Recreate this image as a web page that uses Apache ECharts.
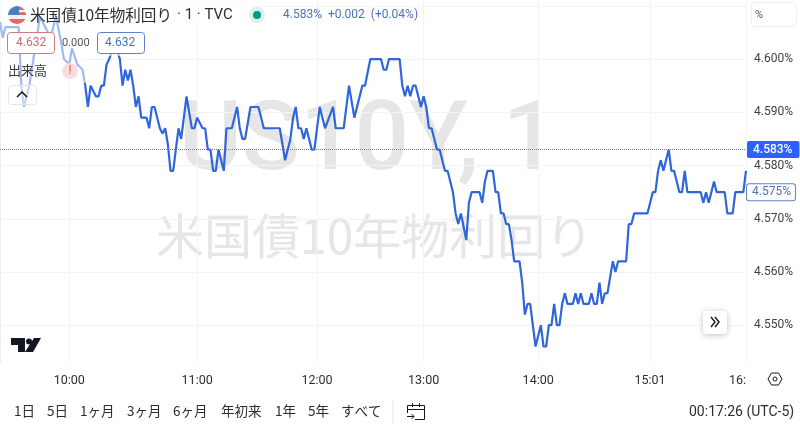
<!DOCTYPE html>
<html>
<head>
<meta charset="utf-8">
<script src="https://cdn.jsdelivr.net/npm/echarts@6/dist/echarts.min.js"></script>
<style>
  html,body{margin:0;padding:0;background:#fff}
  #root{width:800px;height:429px}
</style>
</head>
<body>
<div id="root"></div>
<script>
// one entry per turn of the line: bar number and yield (%)
const bars = [0,1,2,4,7,8,9,11,15,17,19,21,23,24,26,27,29,31,32,33,34,36,37,38,39,40,41,43,45,46,47,48,49,50,51,52,53,55,56,57,58,60,61,62,63,64,65,67,68,70,72,73,74,76,77,78,79,80,81,82,84,85,87,89,90,91,92,94,97,99,105,107,109,110,111,112,113,114,115,117,118,120,122,125,126,129,131,133,136,137,139,140,143,144,145,146,150,151,152,153,154,155,156,158,159,160,161,162,164,165,167,168,170,171,172,173,175,176,177,180,181,182,183,185,186,187,188,189,190,191,192,193,195,196,197,198,199,201,203,204,205,206,207,208,209,210,211,212,213,215,216,217,218,219,221,222,223,224,225,226,227,228,230,231,232,235,236,237,238,243,245,246,247,248,249,251,252,253,255,256,257,258,263,264,265,266,268,269,272,273,275,276,279,280];
const yields = [4.607,4.604,4.606,4.606,4.606,4.595,4.591,4.595,4.608,4.606,4.604,4.608,4.603,4.600,4.599,4.602,4.599,4.598,4.595,4.591,4.595,4.593,4.593,4.595,4.595,4.599,4.600,4.603,4.600,4.595,4.598,4.596,4.598,4.595,4.591,4.593,4.589,4.589,4.587,4.591,4.591,4.587,4.586,4.587,4.584,4.579,4.579,4.587,4.585,4.593,4.587,4.587,4.589,4.587,4.587,4.583,4.583,4.579,4.579,4.583,4.579,4.587,4.587,4.591,4.587,4.585,4.585,4.591,4.591,4.587,4.587,4.581,4.585,4.589,4.591,4.587,4.587,4.585,4.587,4.583,4.583,4.591,4.587,4.591,4.587,4.587,4.595,4.589,4.595,4.595,4.600,4.600,4.600,4.598,4.598,4.600,4.600,4.595,4.593,4.595,4.593,4.595,4.595,4.591,4.593,4.591,4.587,4.587,4.583,4.583,4.579,4.579,4.575,4.571,4.569,4.571,4.566,4.573,4.575,4.575,4.573,4.577,4.579,4.579,4.575,4.575,4.571,4.571,4.569,4.569,4.566,4.562,4.562,4.558,4.552,4.554,4.554,4.546,4.550,4.546,4.546,4.550,4.550,4.554,4.550,4.550,4.554,4.556,4.554,4.554,4.556,4.554,4.556,4.554,4.554,4.556,4.554,4.554,4.558,4.554,4.556,4.556,4.562,4.560,4.562,4.562,4.569,4.569,4.571,4.571,4.575,4.575,4.579,4.581,4.579,4.583,4.579,4.579,4.575,4.575,4.579,4.575,4.575,4.573,4.575,4.573,4.577,4.575,4.575,4.571,4.571,4.575,4.575,4.579];
const timeTicks = [26,74,119,159,202,244,280];
const timeLabels = ['10:00','11:00','12:00','13:00','14:00','15:01','16:'];
const priceTicks = [4.55,4.56,4.57,4.58,4.59,4.60,4.61];
const lastPrice = 4.583;
const prevPrice = 4.575;
const rangeLabels = ['1日','5日','1ヶ月','3ヶ月','6ヶ月','年初来','1年','5年','すべて'];
const rangeX = [14,47,80,127,173,221,275,308,341];

const jp = '"Noto Sans CJK JP","Noto Sans",sans-serif';
const latin = 'Roboto,"Noto Sans",sans-serif';
const lineBlue = '#2f66dd';

function label(x, y, text, size, fill, family){
  return {
    type:'text', x:x, y:y, z:20, silent:true,
    style:{text:text, font:size+'px '+(family||jp), fill:fill, textVerticalAlign:'middle'}
  };
}
function box(x, y, w, h, stroke, fill){
  return {type:'rect', z:15, silent:true, shape:{x:x,y:y,width:w,height:h,r:3},
    style:{stroke:stroke, fill:fill||'#fff', lineWidth:1}};
}
function wash(x, y, w, h){
  return {type:'rect', z:10, silent:true, shape:{x:x,y:y,width:w,height:h}, style:{fill:'rgba(255,255,255,0.55)'}};
}
function icon(points, z){
  return {type:'polyline', z:z||18, silent:true, shape:{points:points}, style:{stroke:'#131722',fill:null,lineWidth:1}};
}
function patch(points, fill){
  return {type:'polygon', z:16, silent:true, shape:{points:points}, style:{fill:fill}};
}

const chart = echarts.init(document.getElementById('root'), null, {renderer:'canvas'});

const overlays = [
  // legend wash over the line
  wash(0,0,250,27), wash(0,27,146,29), wash(0,56,86,27), wash(0,83,40,25),
  // flag
  {type:'circle', z:15, shape:{cx:17,cy:15,r:9}, style:{fill:'#eef2f7'}},
  patch([[8,15],[8.6,12],[10,9.5],[12.5,7.5],[15.5,6.2],[19,6.2],[19,15]],'#4a7fc4'),
  patch([[19,6.2],[22,7.5],[24.5,10],[19,10]],'#e8636a'),
  patch([[19,12.2],[25.6,12.2],[26,15],[19,15]],'#e8636a'),
  patch([[8.8,19],[25.2,19],[23.5,21.5],[20.5,23.3],[17,24],[13.5,23.3],[10.5,21.5]],'#e8636a'),
  label(30,15,'米国債10年物利回り',15.6,'#2a2e39'),
  label(177,15,'· 1 · TVC',15,'#2a2e39',latin),
  {type:'circle', z:15, shape:{cx:257,cy:15,r:8}, style:{fill:'#d9f2ec'}},
  {type:'circle', z:16, shape:{cx:257,cy:15,r:4}, style:{fill:'#089981'}},
  label(283,15,'4.583%  +0.002  (+0.04%)',12,'#4d74b8',latin),
  box(7.5,32.5,47,21,'#d07a7a'),
  label(16,43,'4.632',12,'#d0686e',latin),
  label(62,43,'0.000',11,'#50535e',latin),
  box(97.5,32.5,47,21,'#5d83c4'),
  label(105,43,'4.632',12,'#4d74b8',latin),
  label(8,70,'出来高',13,'#3a3d46'),
  {type:'circle', z:15, shape:{cx:70,cy:71,r:8}, style:{fill:'#fbdde0'}},
  label(68.5,71,'!',12,'#e0505a',latin),
  box(8.5,85.5,28,19,'#e4e6ec','rgba(255,255,255,0.4)'),
  {type:'polyline', z:18, shape:{points:[[17,97],[22,92],[27,97]]}, style:{stroke:'#131722',fill:null,lineWidth:1.5}},
  // tradingview logo
  {type:'polygon', z:15, shape:{points:[[11,338],[25,338],[25,352],[18,352],[18,345],[11,345]]}, style:{fill:'#131722'}},
  {type:'circle', z:15, shape:{cx:29,cy:341.5,r:3}, style:{fill:'#131722'}},
  {type:'polygon', z:15, shape:{points:[[34,338],[41,338],[33,352],[25,352]]}, style:{fill:'#131722'}},
  // scroll to latest button
  {type:'rect', z:15, shape:{x:703,y:311,width:24,height:23,r:4}, style:{fill:'#fff',shadowBlur:6,shadowColor:'rgba(0,0,0,0.25)',shadowOffsetY:1}},
  {type:'polyline', z:18, shape:{points:[[711,317],[715,322],[711,327]]}, style:{stroke:'#131722',fill:null,lineWidth:1.4}},
  {type:'polyline', z:18, shape:{points:[[715,317],[719,322],[715,327]]}, style:{stroke:'#131722',fill:null,lineWidth:1.4}},
  // price scale mode
  box(751.5,2.5,45,24,'#eceef2'),
  label(755,15,'%',11,'#50535e',latin),
  // settings
  {type:'polygon', z:15, shape:{points:[[768,379],[771.5,373],[778.5,373],[782,379],[778.5,385],[771.5,385]]}, style:{stroke:'#131722',fill:'#fff',lineWidth:1}},
  {type:'circle', z:16, shape:{cx:775,cy:379,r:2}, style:{stroke:'#131722',fill:'#fff',lineWidth:1}},
  // range bar
  {type:'line', z:15, shape:{x1:393,y1:400,x2:393,y2:423}, style:{stroke:'#e0e3eb',lineWidth:1}},
  icon([[407.5,413],[407.5,405.5],[424.5,405.5],[424.5,419.5],[415,419.5]]),
  icon([[407.5,409.5],[424.5,409.5]]),
  icon([[412.5,403],[412.5,407]]),
  icon([[419.5,403],[419.5,407]]),
  icon([[407,416.5],[414,416.5]]),
  icon([[411.5,414],[414,416.5],[411.5,419]]),
  label(689,412,'00:17:26 (UTC-5)',14,'#2a2e39',latin)
].concat(rangeLabels.map((t,i)=>label(rangeX[i],411,t,13.5,'#2a2e39')));

const watermarks = [
  {type:'text', z:-5, silent:true, x:179, y:145, style:{text:'US10Y, 1', font:'500 96px '+latin, fill:'#e6e6e6', textVerticalAlign:'middle'}},
  {type:'text', z:-5, silent:true, x:156, y:236, style:{text:'米国債10年物利回り', font:'48px '+jp, fill:'#e6e6e6', textVerticalAlign:'middle'}}
];

chart.setOption({
  animation:false,
  backgroundColor:'#fff',
  graphic:{elements:watermarks.concat(overlays)},
  grid:{left:0, top:0, width:746, height:363, containLabel:false},
  xAxis:{
    type:'value', min:0, max:280,
    axisLine:{show:false},
    axisTick:{show:false, customValues:timeTicks},
    axisLabel:{
      customValues:timeTicks, margin:11, color:'#2a2e39', fontSize:12.5, fontFamily:latin, alignMaxLabel:'right',
      formatter:(v)=>timeLabels[timeTicks.indexOf(v)]
    },
    splitLine:{show:true, lineStyle:{color:'#f3f4f6'}}
  },
  yAxis:{
    type:'value', position:'right', min:4.5429, max:4.6111,
    axisLine:{show:true, lineStyle:{color:'#eceef2'}},
    axisTick:{show:false, customValues:priceTicks},
    axisLabel:{
      customValues:priceTicks.slice(0,6), margin:8, color:'#3f424c', fontSize:12, fontFamily:latin,
      formatter:(v)=>v.toFixed(3)+'%'
    },
    splitLine:{show:true, lineStyle:{color:'#f3f4f6'}}
  },
  series:[{
    type:'line', showSymbol:false, symbol:'none', smooth:false, clip:true,
    data:bars.map((b,i)=>[b,yields[i]]),
    lineStyle:{color:lineBlue, width:2.2},
    markLine:{
      silent:true, symbol:'none', animation:false, precision:3,
      data:[
        {yAxis:lastPrice, lineStyle:{color:'#787b86',type:'dotted',width:1},
          label:{position:'end', distance:1, formatter:lastPrice.toFixed(3)+'%', color:'#fff', fontSize:12, fontFamily:latin, fontWeight:500,
            backgroundColor:'#2962ff', borderRadius:2, padding:[3,7,2,6]}},
        {yAxis:prevPrice, lineStyle:{color:'rgba(0,0,0,0)',width:1},
          label:{position:'end', distance:1, formatter:prevPrice.toFixed(3)+'%', color:'#4d74b8', fontSize:12, fontFamily:latin,
            backgroundColor:'#fff', borderColor:'#5d83c4', borderWidth:1, borderRadius:2, padding:[2,4,2,5]}}
      ]
    }
  }]
});
</script>
</body>
</html>
